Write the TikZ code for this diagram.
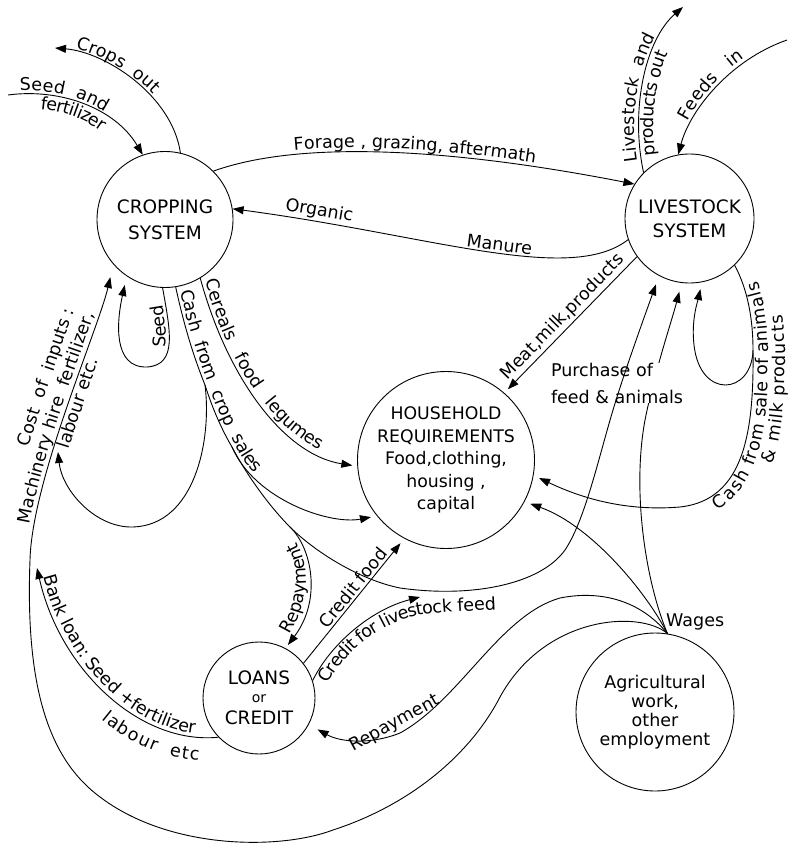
\documentclass[tikz,border=0pt]{standalone}
\usepackage{fontspec}
\setmainfont{DejaVu Sans}
\usepackage{tikz}
\usetikzlibrary{arrows.meta,decorations.text}
\tikzset{
  % ---- system circles -------------------------------------------------
  fsys/.style={
    draw, circle, line width=0.9pt, inner sep=0pt, align=center,
    font=\fontsize{18.5}{21}\selectfont},
  ftext/.style={font=\fontsize{17.5}{20}\selectfont, inner sep=2pt},
  % ---- connections ----------------------------------------------------
  fflow/.style={
    -{Triangle[length=11pt,width=8pt]}, line width=0.9pt},
  fline/.style={line width=0.9pt},
  fgap/.style={shorten >=#1},
  % ---- text set along a curve -----------------------------------------
  fcurve/.style={decorate,
    decoration={text along path, text align={left indent=#1}}},
}

\begin{document}
\begin{tikzpicture}[x=1pt, y=-1pt]
\fontsize{17.5}{20}\selectfont
\useasboundingbox (0,0) rectangle (787,850);

% ---- systems ---------------------------------------------------------
\node[fsys, minimum size=136pt] (crop) at (165,219.5) {CROPPING\\[5pt]SYSTEM};
\node[fsys, minimum size=129pt] (live) at (689.5,218.5) {LIVESTOCK\\[3pt]SYSTEM};
\node[fsys, minimum size=177pt, font=\fontsize{17.3}{22.5}\selectfont] (house) at (446,460)
  {HOUSEHOLD\\REQUIREMENTS\\Food,clothing,\\housing ,\\capital};
\node[fsys, minimum size=112pt] (loan) at (259,698)
  {LOANS\\[-3pt]{\fontsize{14}{16}\selectfont or}\\[1pt]CREDIT};
\node[fsys, minimum size=158pt, font=\fontsize{17.5}{19}\selectfont] (agri) at (655,712)
  {Agricultural\\work,\\other\\employment};

% ---- free ends and branch points -------------------------------------
\coordinate (cropsout) at (55,48);
\coordinate (seedin)   at (8,95);
\coordinate (lvout)    at (683,7);
\coordinate (feedin)   at (787,40);
\coordinate (wages)    at (agri.81);
\coordinate (sale)     at (753,350);
\coordinate (salebend) at (680,507);
\coordinate (cs1)      at (205,385);   % loop back to inputs
\coordinate (cs2)      at (232,447);   % to household
\coordinate (cs3)      at (290,527);   % repayment
\coordinate (costin)   at (58,452);
\coordinate (bankin)   at (37,568);
\coordinate (credfeed) at (420,597);

% ---- cropping system in and out --------------------------------------
\draw[fflow] (crop.77) .. controls (172,95) and (105,52) .. (cropsout);
\path[fcurve=20pt, decoration={raise=3pt, text={Crops{\ } out}}]
  (cropsout) .. controls (105,52) and (172,95) .. (crop.77);
\draw[fflow] (seedin) .. controls (60,88) and (115,108) .. (crop.109);
\path[fcurve=12pt, decoration={raise=3pt, text={Seed{\ } and}}]
  (seedin) .. controls (60,88) and (115,108) .. (crop.109);
\path[fcurve=34pt, decoration={raise=-15pt, text={fertilizer}}]
  (seedin) .. controls (60,88) and (115,108) .. (crop.109);
\draw[fflow, fgap=9pt] (crop.-92) .. controls (170,330) and (178,365) .. (147,367)
  .. controls (112,368) and (117,320) .. (crop.-124);
\path[fcurve=32pt, decoration={raise=3pt, text={Seed}}]
  (147,367) .. controls (178,365) and (170,330) .. (crop.-92);

% ---- between cropping and livestock ----------------------------------
\draw[fflow] (crop.45) .. controls (300,140) and (450,148) .. (live.148);
\path[fcurve=83pt, decoration={raise=4pt, text={Forage , grazing, aftermath}}]
  (crop.45) .. controls (300,140) and (450,148) .. (live.148);
\draw[fflow] (live.199) .. controls (570,285) and (430,235) .. (crop.9)
  node[ftext, sloped, above, pos=0.46] {Manure}
  node[ftext, sloped, above, pos=0.85] {Organic};

% ---- livestock system in and out -------------------------------------
\draw[fflow] (live.135) .. controls (630,110) and (645,40) .. (lvout);
\path[fcurve=12pt, decoration={raise=4pt, text={Livestock{\ } and}}]
  (live.135) .. controls (630,110) and (645,40) .. (lvout);
\path[fcurve=16pt, decoration={raise=-15pt, text={products out}}]
  (live.135) .. controls (630,110) and (645,40) .. (lvout);
\draw[fflow] (feedin) .. controls (730,60) and (690,110) .. (live.100);
\path[fcurve=34pt, decoration={raise=4pt, text={Feeds{\ }{\ } in}}]
  (live.100) .. controls (690,110) and (730,60) .. (feedin);
\draw[fflow, fgap=5pt] (live.216) -- (house.49)
  node[ftext, sloped, above, midway] {Meat,milk,products};

% ---- cash from sale of animals ---------------------------------------
\draw[fline] (live.-46) .. controls (748,290) and (753,320) .. (sale);
\draw[fflow, fgap=6pt] (sale) .. controls (754,430) and (745,500) .. (salebend)
  .. controls (620,512) and (575,495) .. (house.-10);
\draw[fflow, fgap=7pt] (sale) .. controls (752,395) and (700,400) .. (694,345)
  .. controls (691,320) and (698,300) .. (live.-79);
\path[fcurve=30pt, decoration={raise=-15pt, text={Cash from sale of animals}}]
  (salebend) .. controls (745,500) and (754,430) .. (sale)
  .. controls (753,320) and (748,290) .. (live.-46);
\path[fcurve=85pt, decoration={raise=-32pt, text={{\&} milk products}}]
  (salebend) .. controls (745,500) and (754,430) .. (sale)
  .. controls (753,320) and (748,290) .. (live.-46);

% ---- cereals and cash from crop sales --------------------------------
\draw[fflow, fgap=5pt] (crop.-59) .. controls (228,380) and (285,455) .. (house.184);
\path[fcurve=4pt, decoration={raise=4pt, text={Cereals{\ }{\ } food{\ }{\ } legumes}}]
  (crop.-59) .. controls (228,380) and (285,455) .. (house.184);
\draw[fline] (crop.-81) .. controls (185,330) and (195,360) .. (cs1)
  .. controls (213,410) and (222,430) .. (cs2)
  .. controls (245,472) and (268,505) .. (cs3);
\draw[fflow, fgap=6pt] (cs2) .. controls (255,500) and (330,525) .. (house.219);
\path[fcurve=5pt, decoration={raise=4pt, text={Cash{\ } from{\ } crop{\ } sales}}]
  (crop.-81) .. controls (185,330) and (195,360) .. (cs1)
  .. controls (213,410) and (222,430) .. (cs2)
  .. controls (255,500) and (330,525) .. (house.219);
\draw[fflow] (cs1) .. controls (212,440) and (195,525) .. (133,527)
  .. controls (95,528) and (62,490) .. (costin);
\draw[fflow, fgap=4pt] (cs3) .. controls (312,548) and (322,600) .. (loan.62);
\path[fcurve=14pt, decoration={raise=4pt, text={Repayment}}]
  (loan.62) .. controls (322,600) and (312,548) .. (cs3);

% ---- wages and purchase of feed --------------------------------------
\node[ftext, anchor=west, inner sep=0pt] (wagelbl) at (666,622) {Wages};
\draw[fflow, fgap=9pt] (wages) .. controls (645,580) and (632,490) .. (645,420)
  .. controls (655,370) and (672,320) .. (live.-97);
\node[ftext, fill=white, inner sep=0pt, align=left] (purch) at (617,383)
  {Purchase of\\[7pt]feed \& animals};
\draw[fflow, fgap=9pt] (cs3) .. controls (315,552) and (360,580) .. (400,588)
  .. controls (470,598) and (540,585) .. (565,550)
  .. controls (585,520) and (598,460) .. (613,410)
  .. controls (625,370) and (645,315) .. (live.-118);
\draw[fflow, fgap=6pt] (wages) .. controls (645,590) and (590,525) .. (house.-28);
\draw[fflow, fgap=10pt] (wages) .. controls (640,600) and (600,590) .. (560,598)
  .. controls (500,615) and (460,700) .. (400,733)
  node[ftext, sloped, above, pos=1] {Repayment}
  .. controls (370,745) and (340,742) .. (loan.-28);

% ---- cost of inputs, round the bottom --------------------------------
\draw[fflow, fgap=13pt] (wages) .. controls (640,610) and (545,615) .. (500,697)
  .. controls (470,755) and (410,805) .. (333,830)
  .. controls (280,850) and (170,850) .. (100,797)
  .. controls (50,760) and (25,690) .. (30,560)
  .. controls (32,480) and (98,330) .. (crop.-139);
\path[fcurve=108pt, decoration={raise=24pt, text={Cost{\ } of{\ } inputs :}}]
  (30,560) .. controls (32,480) and (98,330) .. (crop.-139);
\path[fcurve=35pt, decoration={raise=4pt, text={Machinery hire{\ } fertilizer,}}]
  (30,560) .. controls (32,480) and (98,330) .. (crop.-139);
\path[fcurve=118pt, decoration={raise=-15pt, text={labour etc.}}]
  (30,560) .. controls (32,480) and (98,330) .. (crop.-139);

% ---- loans and credit ------------------------------------------------
\draw[fflow] (loan.-136) .. controls (140,745) and (60,670) .. (bankin);
\path[fcurve=10pt, decoration={raise=4pt, text={Bank loan: Seed +fertilizer}}]
  (bankin) .. controls (60,670) and (140,745) .. (loan.-136);
\path[fcurve=158pt, decoration={raise=-23pt, text={labour{\ } etc}}]
  (bankin) .. controls (60,670) and (140,745) .. (loan.-136);
\draw[fflow, fgap=6pt] (loan.38) -- (house.-118)
  node[ftext, sloped, above, pos=0.56] {Credit food};
\draw[fflow] (loan.18) .. controls (330,645) and (370,610) .. (credfeed);
\path[fcurve=5pt, decoration={raise=-15pt, text={Credit for livestock feed}}]
  (loan.18) .. controls (330,645) and (370,608) .. (420,600)
  .. controls (455,595) and (490,596) .. (530,592);

\end{tikzpicture}
\end{document}
